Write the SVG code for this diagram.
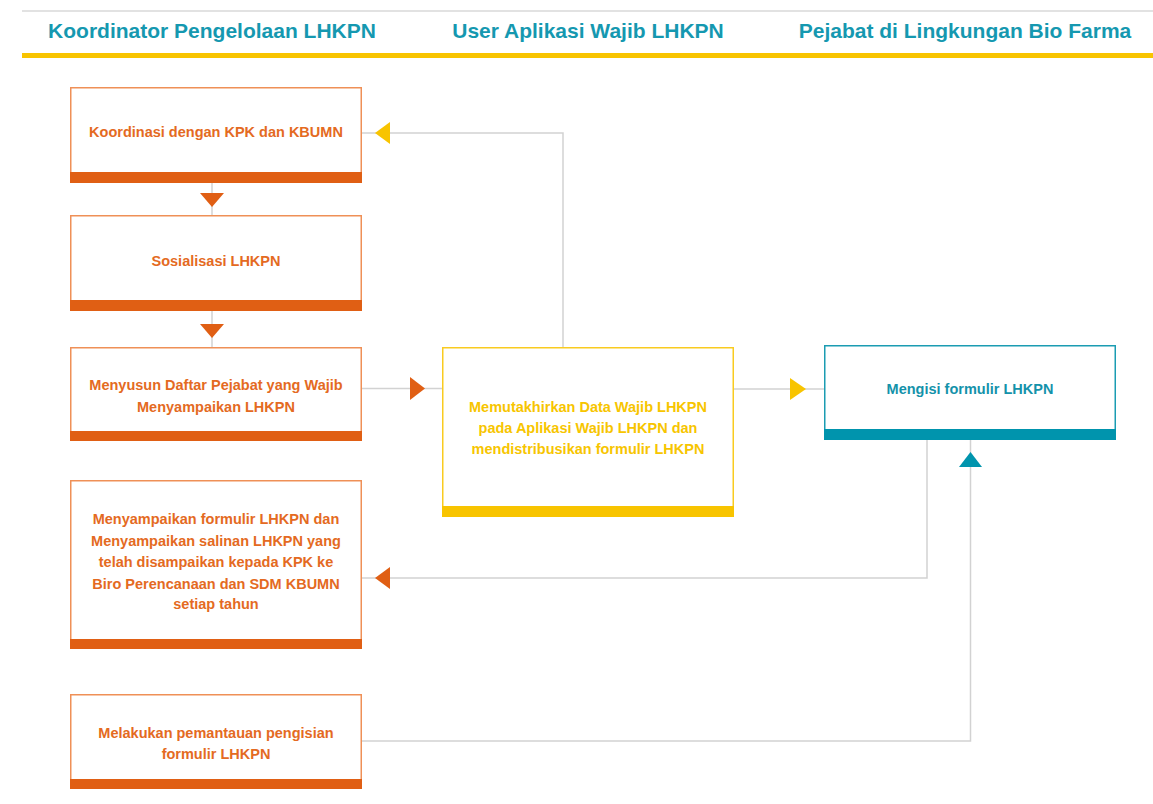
<svg xmlns="http://www.w3.org/2000/svg" width="1153" height="804" viewBox="0 0 1153 804">
<style>
.hd{font-family:"Liberation Sans",Arial,sans-serif;font-weight:bold;font-size:21px;fill:#1598b0;text-anchor:middle}
.t{font-family:"Liberation Sans",Arial,sans-serif;font-weight:bold;font-size:14.5px;text-anchor:middle}
.to{fill:#e46a22}.ty{fill:#f7c500}.tt{fill:#1492aa}
.bo{fill:#fff;stroke:#ef9057;stroke-width:1.5}
.by{fill:#fff;stroke:#f9cb20;stroke-width:1.5}
.bt{fill:#fff;stroke:#1b9cb2;stroke-width:1.5}
.fo{fill:#e05f14}.fy{fill:#f8c400}.ft{fill:#0094ad}
.ln{fill:none;stroke:#d2d2d2;stroke-width:1.5}
</style>
<rect width="1153" height="804" fill="#fff"/>
<g id="header">
<line x1="22" y1="11" x2="1153" y2="11" stroke="#e2e2e2" stroke-width="2"/>
<rect x="22" y="53" width="1131" height="5" fill="#f8c400"/>
<text class="hd" x="212" y="38">Koordinator Pengelolaan LHKPN</text>
<text class="hd" x="588" y="38">User Aplikasi Wajib LHKPN</text>
<text class="hd" x="965" y="38">Pejabat di Lingkungan Bio Farma</text>
</g>
<g id="connectors">
<line class="ln" x1="212" y1="183" x2="212" y2="215"/>
<polygon class="fo" points="200,193 224,193 212,207"/>
<line class="ln" x1="212" y1="311" x2="212" y2="347"/>
<polygon class="fo" points="200,324 224,324 212,338"/>
<line class="ln" x1="362" y1="388.5" x2="442" y2="388.5"/>
<polygon class="fo" points="410,377 410,400 425,388.5"/>
<polyline class="ln" points="563,347 563,133 362,133"/>
<polygon class="fy" points="390,122 390,144 375,133"/>
<line class="ln" x1="734" y1="389" x2="824" y2="389"/>
<polygon class="fy" points="790,378 790,400 806,389"/>
<polyline class="ln" points="927,440 927,578 362,578"/>
<polygon class="fo" points="390,567 390,589 375,578"/>
<polyline class="ln" points="362,741 970.5,741 970.5,440"/>
<polygon class="ft" points="959,467 982,467 970.5,452"/>
</g>
<g id="n1">
<rect class="bo" x="70.75" y="87.75" width="290.5" height="94"/>
<rect class="fo" x="70" y="172" width="292" height="11"/>
<text class="t to" x="216" y="137">Koordinasi dengan KPK dan KBUMN</text>
</g>
<g id="n2">
<rect class="bo" x="70.75" y="215.75" width="290.5" height="94"/>
<rect class="fo" x="70" y="300" width="292" height="11"/>
<text class="t to" x="216" y="266">Sosialisasi LHKPN</text>
</g>
<g id="n3">
<rect class="bo" x="70.75" y="347.75" width="290.5" height="92.5"/>
<rect class="fo" x="70" y="431" width="292" height="10"/>
<text class="t to" x="216" y="390">Menyusun Daftar Pejabat yang Wajib</text>
<text class="t to" x="216" y="412">Menyampaikan LHKPN</text>
</g>
<g id="n4">
<rect class="by" x="442.75" y="347.75" width="290.5" height="168.5"/>
<rect class="fy" x="442" y="506" width="292" height="11"/>
<text class="t ty" x="588" y="412">Memutakhirkan Data Wajib LHKPN</text>
<text class="t ty" x="588" y="433">pada Aplikasi Wajib LHKPN dan</text>
<text class="t ty" x="588" y="454">mendistribusikan formulir LHKPN</text>
</g>
<g id="n5">
<rect class="bt" x="824.75" y="345.75" width="290.5" height="93.5"/>
<rect class="ft" x="824" y="429" width="292" height="11"/>
<text class="t tt" x="970" y="394">Mengisi formulir LHKPN</text>
</g>
<g id="n6">
<rect class="bo" x="70.75" y="480.75" width="290.5" height="167.5"/>
<rect class="fo" x="70" y="639" width="292" height="10"/>
<text class="t to" x="216" y="524">Menyampaikan formulir LHKPN dan</text>
<text class="t to" x="216" y="546">Menyampaikan salinan LHKPN yang</text>
<text class="t to" x="216" y="567">telah disampaikan kepada KPK ke</text>
<text class="t to" x="216" y="589">Biro Perencanaan dan SDM KBUMN</text>
<text class="t to" x="216" y="609">setiap tahun</text>
</g>
<g id="n7">
<rect class="bo" x="70.75" y="694.75" width="290.5" height="93.5"/>
<rect class="fo" x="70" y="779" width="292" height="10"/>
<text class="t to" x="216" y="738">Melakukan pemantauan pengisian</text>
<text class="t to" x="216" y="759">formulir LHKPN</text>
</g>
</svg>
